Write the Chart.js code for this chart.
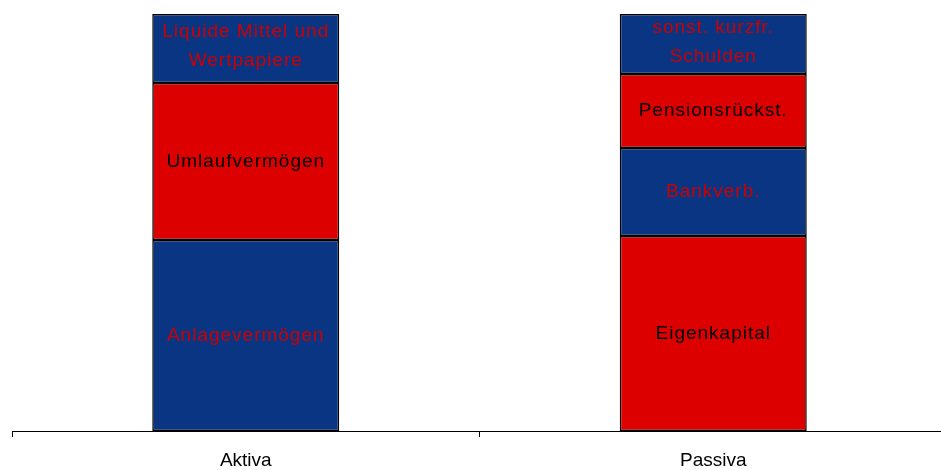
<!DOCTYPE html>
<html>
<head>
<meta charset="utf-8">
<script src="https://cdn.jsdelivr.net/npm/chart.js@4"></script>
<style>
  html, body { margin: 0; padding: 0; background: #fff; overflow: hidden; }
  #wrap { width: 947px; height: 470px; }
</style>
</head>
<body>
<div id="wrap"><canvas id="bilanz"></canvas></div>
<script>
// categories and stacked segments (bottom to top)
var categories = ['Aktiva', 'Passiva'];

var seg1 = [191, 195];
var seg2 = [157, 88];
var seg3 = [69, 74];
var seg4 = [null, 60];

var seg1_labels = ['Anlagevermögen', 'Eigenkapital'];
var seg2_labels = ['Umlaufvermögen', 'Bankverb.'];
var seg3_labels = [['Liquide Mittel und', 'Wertpapiere'], 'Pensionsrückst.'];
var seg4_labels = [null, ['sonst. kurzfr.', 'Schulden']];

var blue = '#0a3583';
var red = '#dd0000';

var datasets = [
    {data: seg1, names: seg1_labels, backgroundColor: [blue, red], textColor: ['#cc0000', '#000']},
    {data: seg2, names: seg2_labels, backgroundColor: [red, blue], textColor: ['#000', '#cc0000']},
    {data: seg3, names: seg3_labels, backgroundColor: [blue, red], textColor: ['#cc0000', '#000']},
    {data: seg4, names: seg4_labels, backgroundColor: [blue, blue], textColor: ['#cc0000', '#cc0000']}
];

datasets.forEach(function (d) {
    d.borderColor = '#000';
    d.borderWidth = 1.5;
    d.borderSkipped = false;
    d.categoryPercentage = 1.0;
    d.barPercentage = 0.4;
});

var segLabels = {
    id: 'segLabels',
    afterDatasetsDraw: function (chart) {
        var ctx = chart.ctx;
        ctx.save();
        ctx.font = '19px "Liberation Sans", Arial, sans-serif';
        ctx.letterSpacing = '1px';
        ctx.textAlign = 'center';
        ctx.textBaseline = 'middle';
        chart.data.datasets.forEach(function (ds, i) {
            var meta = chart.getDatasetMeta(i);
            meta.data.forEach(function (bar, j) {
                var txt = ds.names[j];
                if (!txt || ds.data[j] == null) return;
                var lines = Array.isArray(txt) ? txt : [txt];
                var midY = (bar.y + bar.base) / 2 - (lines.length > 1 ? 2 : 0);
                var lh = 29;
                ctx.fillStyle = ds.textColor[j];
                lines.forEach(function (ln, k) {
                    ctx.fillText(ln, bar.x, midY + (k - (lines.length - 1) / 2) * lh);
                });
            });
        });
        ctx.restore();
    }
};

var ctx = document.getElementById('bilanz').getContext('2d');
new Chart(ctx, {
    type: 'bar',
    data: {
        labels: categories,
        datasets: datasets
    },
    plugins: [segLabels],
    options: {
        responsive: true,
        maintainAspectRatio: false,
        animation: false,
        layout: {padding: {top: 14, left: 12, right: 0, bottom: 0}},
        plugins: {
            legend: {display: false},
            tooltip: {enabled: false}
        },
        scales: {
            x: {
                stacked: true,
                offset: true,
                afterFit: function (scale) { scale.height = 39; },
                border: {display: true, color: '#000', width: 1},
                grid: {display: true, offset: true, drawOnChartArea: false, drawTicks: true, tickLength: 6, color: '#000'},
                ticks: {color: '#000', font: {size: 19, family: '"Liberation Sans", Arial, sans-serif'}, padding: 12}
            },
            y: {
                stacked: true,
                display: false,
                min: 0,
                max: 417
            }
        }
    }
});
</script>
</body>
</html>
